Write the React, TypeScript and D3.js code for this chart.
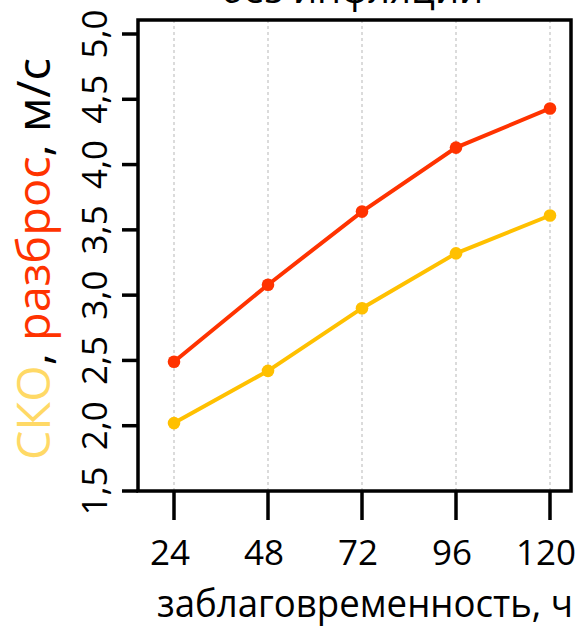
import React from "react";
import * as d3 from "d3";

// Forecast lead time, hours
const leadTimes = [24, 48, 72, 96, 120];
// Standard deviation (СКО), m/s
const skoValues = [2.02, 2.42, 2.9, 3.32, 3.61];
// Ensemble spread (разброс), m/s
const spreadValues = [2.49, 3.08, 3.64, 4.13, 4.43];
// Y axis tick values
const yTicks = [1.5, 2.0, 2.5, 3.0, 3.5, 4.0, 4.5, 5.0];

const W = 575;
const H = 628;
const FONT = "'Open Sans', 'DejaVu Sans', sans-serif";
const YELLOW = "#FFC000";
const LABEL_YELLOW = "#FFD966";
const RED = "#FF3300";

const box = { left: 138, right: 571, top: 20, bottom: 491 };

export default function App() {
  const x = d3.scaleLinear().domain([24, 120]).range([174, 550]);
  const y = d3.scaleLinear().domain([1.5, 5.0]).range([491, 34]);

  const line = d3
    .line<number>()
    .x((_, i) => x(leadTimes[i]))
    .y((v) => y(v));

  const fmt = (v: number) => v.toFixed(1).replace(".", ",");

  const series = [
    { values: skoValues, color: YELLOW },
    { values: spreadValues, color: RED },
  ];

  return (
    <svg
      width={W}
      height={H}
      style={{ position: "fixed", left: 0, top: 0, background: "#fff" }}
      fontFamily={FONT}
    >
      {/* title, partly above the top edge */}
      <text x={352} y={3} fontSize={38} textAnchor="middle" fill="#000">
        без инфляции
      </text>

      {/* vertical dashed grid */}
      {leadTimes.map((t) => (
        <line
          key={"g" + t}
          x1={x(t)}
          x2={x(t)}
          y1={box.top}
          y2={box.bottom}
          stroke="#cfcfcf"
          strokeWidth={1.5}
          strokeDasharray="3,3"
        />
      ))}

      {/* plot frame */}
      <rect
        x={box.left}
        y={box.top}
        width={box.right - box.left}
        height={box.bottom - box.top}
        fill="none"
        stroke="#000"
        strokeWidth={3.5}
      />

      {/* y axis ticks and labels */}
      {yTicks.map((v) => (
        <g key={"y" + v}>
          <line
            x1={122}
            x2={box.left}
            y1={y(v)}
            y2={y(v)}
            stroke="#000"
            strokeWidth={3.5}
          />
          <text
            transform={`translate(107,${y(v)}) rotate(-90)`}
            fontSize={35}
            textAnchor="middle"
            fill="#000"
          >
            {fmt(v)}
          </text>
        </g>
      ))}

      {/* x axis ticks and labels */}
      {leadTimes.map((t) => (
        <g key={"x" + t}>
          <line
            x1={x(t)}
            x2={x(t)}
            y1={box.bottom}
            y2={520}
            stroke="#000"
            strokeWidth={3.5}
          />
          <text x={x(t) - 4} y={565} fontSize={35} textAnchor="middle" fill="#000">
            {t}
          </text>
        </g>
      ))}

      {/* series lines and points */}
      {series.map((s, si) => (
        <g key={"s" + si}>
          <path d={line(s.values) || ""} fill="none" stroke={s.color} strokeWidth={4} />
          {s.values.map((v, i) => (
            <circle key={i} cx={x(leadTimes[i])} cy={y(v)} r={6.3} fill={s.color} />
          ))}
        </g>
      ))}

      {/* axis titles */}
      <text
        x={365}
        y={617}
        fontSize={38}
        textAnchor="middle"
        textLength={416}
        lengthAdjust="spacingAndGlyphs"
        fill="#000"
      >
        заблаговременность, ч
      </text>
      <text
        transform="translate(50,259) rotate(-90)"
        fontSize={46}
        textAnchor="middle"
        textLength={402}
        lengthAdjust="spacingAndGlyphs"
      >
        <tspan fill={LABEL_YELLOW}>СКО</tspan>
        <tspan fill="#000">, </tspan>
        <tspan fill={RED}>разброс</tspan>
        <tspan fill="#000">, м/с</tspan>
      </text>
    </svg>
  );
}
